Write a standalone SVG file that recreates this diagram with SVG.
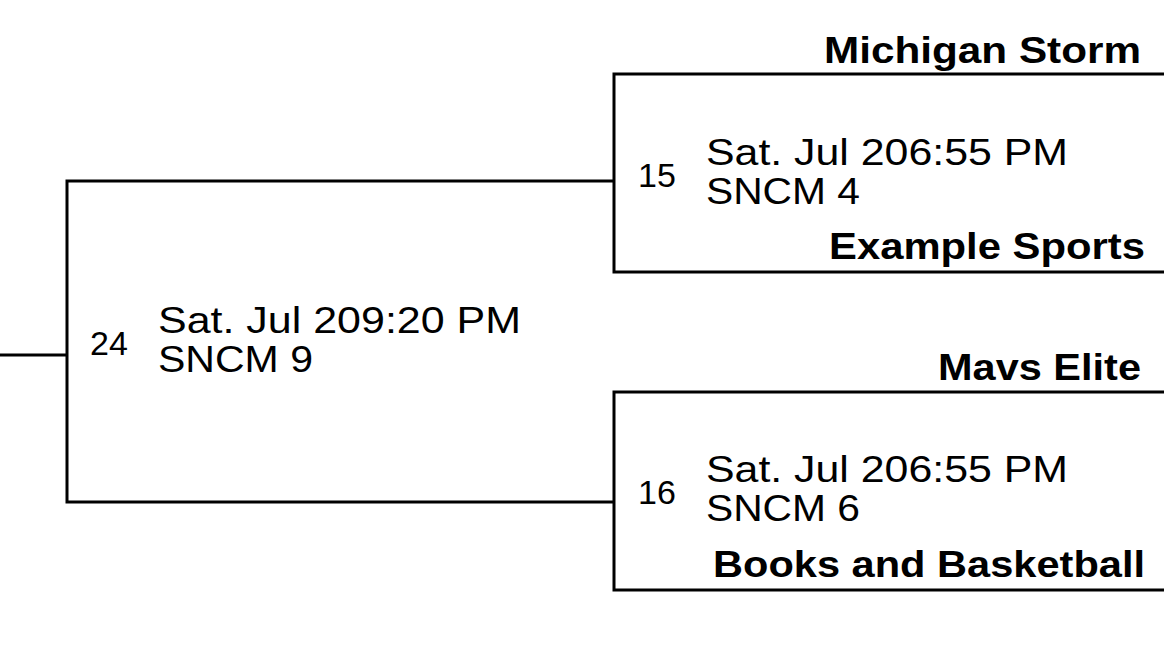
<svg xmlns="http://www.w3.org/2000/svg" width="1164" height="645" viewBox="0 0 1164 645">
<style>
.l{stroke:#000;stroke-width:3;fill:none}
.t{font-family:"Liberation Sans",Arial,sans-serif;font-size:37px;fill:#000}
.n{font-family:"Liberation Sans",Arial,sans-serif;font-size:34px;fill:#000}
.b{font-family:"Liberation Sans",Arial,sans-serif;font-size:36px;font-weight:bold;fill:#000;text-anchor:end}
</style>
<rect width="1164" height="645" fill="#fff"/>
<g id="connectors">
<path class="l" d="M1164 74H614V272H1164"/>
<path class="l" d="M1164 392H614V590H1164"/>
<path class="l" d="M614 181H67V502H614"/>
<path class="l" d="M0 355H67"/>
</g>
<g id="game15">
<text class="b" x="1141" y="63" textLength="317" lengthAdjust="spacingAndGlyphs">Michigan Storm</text>
<text class="n" x="638" y="187">15</text>
<text class="t" x="706" y="165" textLength="362" lengthAdjust="spacingAndGlyphs">Sat. Jul 206:55 PM</text>
<text class="t" x="706" y="204" textLength="154" lengthAdjust="spacingAndGlyphs">SNCM 4</text>
<text class="b" x="1145" y="259" textLength="316" lengthAdjust="spacingAndGlyphs">Example Sports</text>
</g>
<g id="game16">
<text class="b" x="1141" y="380" textLength="203" lengthAdjust="spacingAndGlyphs">Mavs Elite</text>
<text class="n" x="638" y="504">16</text>
<text class="t" x="706" y="482" textLength="362" lengthAdjust="spacingAndGlyphs">Sat. Jul 206:55 PM</text>
<text class="t" x="706" y="521" textLength="154" lengthAdjust="spacingAndGlyphs">SNCM 6</text>
<text class="b" x="1145" y="577" textLength="432" lengthAdjust="spacingAndGlyphs">Books and Basketball</text>
</g>
<g id="game24">
<text class="n" x="90" y="355">24</text>
<text class="t" x="158" y="333" textLength="363" lengthAdjust="spacingAndGlyphs">Sat. Jul 209:20 PM</text>
<text class="t" x="158" y="372" textLength="155" lengthAdjust="spacingAndGlyphs">SNCM 9</text>
</g>
</svg>
